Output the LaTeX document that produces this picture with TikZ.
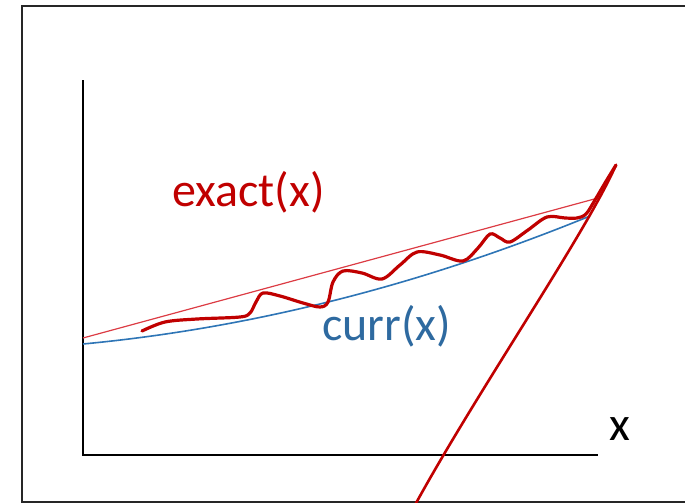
\documentclass[tikz,border=0pt]{standalone}
\usepackage{fontspec}
\setmainfont{Carlito}
\usepackage{tikz}
\definecolor{exactred}{HTML}{C00000}
\definecolor{chordred}{HTML}{DC3C44}
\definecolor{currblue}{HTML}{2E75B6}
\definecolor{labelblue}{HTML}{2E6AA0}

\begin{document}
\begin{tikzpicture}[x=1pt,y=-1pt,
  lbl/.style={font=\fontsize{48}{52}\selectfont,anchor=base west,inner sep=0pt}]
  \useasboundingbox (0,0) rectangle (685,503);
  \draw[line width=1.4pt,black!85] (22,6) rectangle (700,502);
  \draw[line width=1.5pt] (83,80) -- (83,455) -- (598,455);
  \node[lbl] (xlabel) at (609,440) {x};
  \draw[line width=1.2pt,chordred] (83,338) -- (598,198);
  \draw[line width=1.6pt,currblue] (83,344) .. controls (252,328) and (421,285) .. (590,216);
  \draw[line width=3.2pt,exactred,line cap=round,line join=round] plot[smooth,tension=0.55] coordinates {(142,331) (165,322) (197,319) (240,317) (250,313) (256,302) (263,293) (280,296) (303,303) (320,307) (328,302) (333,282) (343,271) (362,273) (382,279) (400,265) (417,252) (440,255) (463,261) (478,248) (490,234) (500,238) (510,242) (528,230) (547,217) (565,218) (577,218) (586,214) (595,200) (605,183) (616,165)};
  \draw[line width=2.6pt,exactred,line cap=round] (616,165) .. controls (585,235) and (478,390) .. (415,505);
  \node[lbl,text=exactred] (exact) at (172,206) {exact(x)};
  \node[lbl,text=labelblue] (curr) at (322,340) {curr(x)};
\end{tikzpicture}
\end{document}
